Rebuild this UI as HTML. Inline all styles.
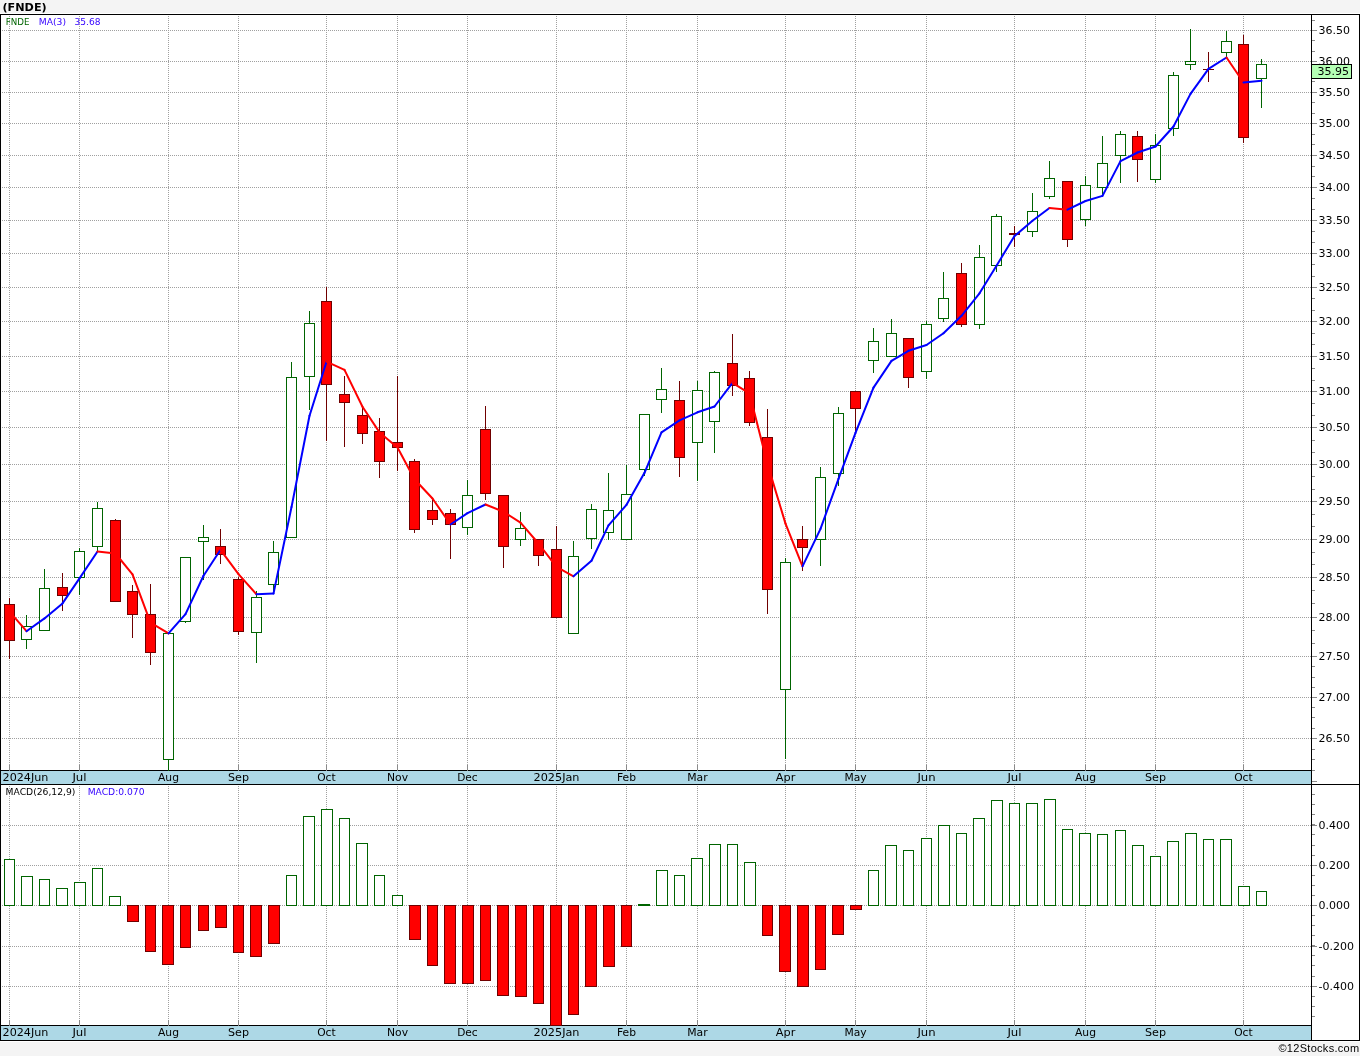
<!DOCTYPE html>
<html lang="en"><head><meta charset="utf-8"><title>(FNDE)</title>
<style>html,body{margin:0;padding:0;background:#f4f4f4}svg{display:block}</style>
</head><body>
<svg width="1360" height="1056" viewBox="0 0 1360 1056" font-family="'DejaVu Sans','Liberation Sans',sans-serif" font-size="11" shape-rendering="crispEdges">
<rect x="0" y="0" width="1360" height="1056" fill="#f4f4f4"/>
<rect x="0" y="13" width="1360" height="1029" fill="#ffffff"/>
<g stroke="#a0a0a0" stroke-width="1" stroke-dasharray="1 1" fill="none">
<path d="M2 30.5H1311"/>
<path d="M2 61.5H1311"/>
<path d="M2 92.5H1311"/>
<path d="M2 123.5H1311"/>
<path d="M2 155.5H1311"/>
<path d="M2 187.5H1311"/>
<path d="M2 220.5H1311"/>
<path d="M2 253.5H1311"/>
<path d="M2 287.5H1311"/>
<path d="M2 321.5H1311"/>
<path d="M2 356.5H1311"/>
<path d="M2 391.5H1311"/>
<path d="M2 427.5H1311"/>
<path d="M2 464.5H1311"/>
<path d="M2 501.5H1311"/>
<path d="M2 539.5H1311"/>
<path d="M2 577.5H1311"/>
<path d="M2 617.5H1311"/>
<path d="M2 656.5H1311"/>
<path d="M2 697.5H1311"/>
<path d="M2 738.5H1311"/>
<path d="M2 825.5H1311"/>
<path d="M2 865.5H1311"/>
<path d="M2 905.5H1311"/>
<path d="M2 946.5H1311"/>
<path d="M2 986.5H1311"/>
<path d="M9.5 16V765"/>
<path d="M9.5 786V1020"/>
<path d="M79.5 16V765"/>
<path d="M79.5 786V1020"/>
<path d="M168.5 16V765"/>
<path d="M168.5 786V1020"/>
<path d="M238.5 16V765"/>
<path d="M238.5 786V1020"/>
<path d="M326.5 16V765"/>
<path d="M326.5 786V1020"/>
<path d="M397.5 16V765"/>
<path d="M397.5 786V1020"/>
<path d="M467.5 16V765"/>
<path d="M467.5 786V1020"/>
<path d="M556.5 16V765"/>
<path d="M556.5 786V1020"/>
<path d="M626.5 16V765"/>
<path d="M626.5 786V1020"/>
<path d="M697.5 16V765"/>
<path d="M697.5 786V1020"/>
<path d="M785.5 16V765"/>
<path d="M785.5 786V1020"/>
<path d="M855.5 16V765"/>
<path d="M855.5 786V1020"/>
<path d="M926.5 16V765"/>
<path d="M926.5 786V1020"/>
<path d="M1014.5 16V765"/>
<path d="M1014.5 786V1020"/>
<path d="M1085.5 16V765"/>
<path d="M1085.5 786V1020"/>
<path d="M1155.5 16V765"/>
<path d="M1155.5 786V1020"/>
<path d="M1243.5 16V765"/>
<path d="M1243.5 786V1020"/>
</g>
<rect x="0" y="770" width="1312" height="15" fill="#000"/>
<rect x="1" y="771" width="1310" height="13" fill="#add8e6"/>
<text x="2.6" y="781" fill="#000" textLength="45.8" lengthAdjust="spacingAndGlyphs">2024Jun</text>
<text x="72.4" y="781" fill="#000" textLength="14.2" lengthAdjust="spacingAndGlyphs">Jul</text>
<text x="158.0" y="781" fill="#000" textLength="21" lengthAdjust="spacingAndGlyphs">Aug</text>
<text x="228.0" y="781" fill="#000" textLength="21" lengthAdjust="spacingAndGlyphs">Sep</text>
<text x="317.2" y="781" fill="#000" textLength="18.5" lengthAdjust="spacingAndGlyphs">Oct</text>
<text x="387.0" y="781" fill="#000" textLength="21" lengthAdjust="spacingAndGlyphs">Nov</text>
<text x="457.2" y="781" fill="#000" textLength="20.5" lengthAdjust="spacingAndGlyphs">Dec</text>
<text x="533.5" y="781" fill="#000" textLength="46" lengthAdjust="spacingAndGlyphs">2025Jan</text>
<text x="617.0" y="781" fill="#000" textLength="19" lengthAdjust="spacingAndGlyphs">Feb</text>
<text x="687.2" y="781" fill="#000" textLength="20.5" lengthAdjust="spacingAndGlyphs">Mar</text>
<text x="775.8" y="781" fill="#000" textLength="19.5" lengthAdjust="spacingAndGlyphs">Apr</text>
<text x="844.4" y="781" fill="#000" textLength="22.2" lengthAdjust="spacingAndGlyphs">May</text>
<text x="917.4" y="781" fill="#000" textLength="18.2" lengthAdjust="spacingAndGlyphs">Jun</text>
<text x="1007.4" y="781" fill="#000" textLength="14.2" lengthAdjust="spacingAndGlyphs">Jul</text>
<text x="1075.0" y="781" fill="#000" textLength="21" lengthAdjust="spacingAndGlyphs">Aug</text>
<text x="1145.0" y="781" fill="#000" textLength="21" lengthAdjust="spacingAndGlyphs">Sep</text>
<text x="1234.2" y="781" fill="#000" textLength="18.5" lengthAdjust="spacingAndGlyphs">Oct</text>
<rect x="0" y="1025" width="1312" height="16" fill="#000"/>
<rect x="1" y="1026" width="1310" height="14" fill="#add8e6"/>
<text x="2.6" y="1036" fill="#000" textLength="45.8" lengthAdjust="spacingAndGlyphs">2024Jun</text>
<text x="72.4" y="1036" fill="#000" textLength="14.2" lengthAdjust="spacingAndGlyphs">Jul</text>
<text x="158.0" y="1036" fill="#000" textLength="21" lengthAdjust="spacingAndGlyphs">Aug</text>
<text x="228.0" y="1036" fill="#000" textLength="21" lengthAdjust="spacingAndGlyphs">Sep</text>
<text x="317.2" y="1036" fill="#000" textLength="18.5" lengthAdjust="spacingAndGlyphs">Oct</text>
<text x="387.0" y="1036" fill="#000" textLength="21" lengthAdjust="spacingAndGlyphs">Nov</text>
<text x="457.2" y="1036" fill="#000" textLength="20.5" lengthAdjust="spacingAndGlyphs">Dec</text>
<text x="533.5" y="1036" fill="#000" textLength="46" lengthAdjust="spacingAndGlyphs">2025Jan</text>
<text x="617.0" y="1036" fill="#000" textLength="19" lengthAdjust="spacingAndGlyphs">Feb</text>
<text x="687.2" y="1036" fill="#000" textLength="20.5" lengthAdjust="spacingAndGlyphs">Mar</text>
<text x="775.8" y="1036" fill="#000" textLength="19.5" lengthAdjust="spacingAndGlyphs">Apr</text>
<text x="844.4" y="1036" fill="#000" textLength="22.2" lengthAdjust="spacingAndGlyphs">May</text>
<text x="917.4" y="1036" fill="#000" textLength="18.2" lengthAdjust="spacingAndGlyphs">Jun</text>
<text x="1007.4" y="1036" fill="#000" textLength="14.2" lengthAdjust="spacingAndGlyphs">Jul</text>
<text x="1075.0" y="1036" fill="#000" textLength="21" lengthAdjust="spacingAndGlyphs">Aug</text>
<text x="1145.0" y="1036" fill="#000" textLength="21" lengthAdjust="spacingAndGlyphs">Sep</text>
<text x="1234.2" y="1036" fill="#000" textLength="18.5" lengthAdjust="spacingAndGlyphs">Oct</text>
<g stroke="#8a8a8a" stroke-width="1">
<path d="M9.5 765V771"/>
<path d="M9.5 1020V1026"/>
<path d="M79.5 765V771"/>
<path d="M79.5 1020V1026"/>
<path d="M168.5 765V771"/>
<path d="M168.5 1020V1026"/>
<path d="M238.5 765V771"/>
<path d="M238.5 1020V1026"/>
<path d="M326.5 765V771"/>
<path d="M326.5 1020V1026"/>
<path d="M397.5 765V771"/>
<path d="M397.5 1020V1026"/>
<path d="M467.5 765V771"/>
<path d="M467.5 1020V1026"/>
<path d="M556.5 765V771"/>
<path d="M556.5 1020V1026"/>
<path d="M626.5 765V771"/>
<path d="M626.5 1020V1026"/>
<path d="M697.5 765V771"/>
<path d="M697.5 1020V1026"/>
<path d="M785.5 765V771"/>
<path d="M785.5 1020V1026"/>
<path d="M855.5 765V771"/>
<path d="M855.5 1020V1026"/>
<path d="M926.5 765V771"/>
<path d="M926.5 1020V1026"/>
<path d="M1014.5 765V771"/>
<path d="M1014.5 1020V1026"/>
<path d="M1085.5 765V771"/>
<path d="M1085.5 1020V1026"/>
<path d="M1155.5 765V771"/>
<path d="M1155.5 1020V1026"/>
<path d="M1243.5 765V771"/>
<path d="M1243.5 1020V1026"/>
</g>
<g stroke-width="1">
<rect x="4.5" y="859.5" width="10" height="46" fill="#fff" stroke="#006400"/>
<rect x="21.5" y="876.5" width="11" height="29" fill="#fff" stroke="#006400"/>
<rect x="39.5" y="879.5" width="10" height="26" fill="#fff" stroke="#006400"/>
<rect x="56.5" y="888.5" width="11" height="17" fill="#fff" stroke="#006400"/>
<rect x="74.5" y="882.5" width="11" height="23" fill="#fff" stroke="#006400"/>
<rect x="92.5" y="868.5" width="10" height="37" fill="#fff" stroke="#006400"/>
<rect x="109.5" y="896.5" width="11" height="9" fill="#fff" stroke="#006400"/>
<rect x="127.5" y="905.5" width="11" height="16" fill="#ff0000" stroke="#700000"/>
<rect x="145.5" y="905.5" width="10" height="46" fill="#ff0000" stroke="#700000"/>
<rect x="162.5" y="905.5" width="11" height="59" fill="#ff0000" stroke="#700000"/>
<rect x="180.5" y="905.5" width="10" height="42" fill="#ff0000" stroke="#700000"/>
<rect x="198.5" y="905.5" width="10" height="25" fill="#ff0000" stroke="#700000"/>
<rect x="215.5" y="905.5" width="11" height="22" fill="#ff0000" stroke="#700000"/>
<rect x="233.5" y="905.5" width="10" height="47" fill="#ff0000" stroke="#700000"/>
<rect x="250.5" y="905.5" width="11" height="51" fill="#ff0000" stroke="#700000"/>
<rect x="268.5" y="905.5" width="11" height="38" fill="#ff0000" stroke="#700000"/>
<rect x="286.5" y="875.5" width="10" height="30" fill="#fff" stroke="#006400"/>
<rect x="303.5" y="816.5" width="11" height="89" fill="#fff" stroke="#006400"/>
<rect x="321.5" y="809.5" width="11" height="96" fill="#fff" stroke="#006400"/>
<rect x="339.5" y="818.5" width="10" height="87" fill="#fff" stroke="#006400"/>
<rect x="356.5" y="843.5" width="11" height="62" fill="#fff" stroke="#006400"/>
<rect x="374.5" y="875.5" width="10" height="30" fill="#fff" stroke="#006400"/>
<rect x="392.5" y="895.5" width="10" height="10" fill="#fff" stroke="#006400"/>
<rect x="409.5" y="905.5" width="11" height="34" fill="#ff0000" stroke="#700000"/>
<rect x="427.5" y="905.5" width="10" height="60" fill="#ff0000" stroke="#700000"/>
<rect x="444.5" y="905.5" width="11" height="78" fill="#ff0000" stroke="#700000"/>
<rect x="462.5" y="905.5" width="11" height="78" fill="#ff0000" stroke="#700000"/>
<rect x="480.5" y="905.5" width="10" height="75" fill="#ff0000" stroke="#700000"/>
<rect x="497.5" y="905.5" width="11" height="90" fill="#ff0000" stroke="#700000"/>
<rect x="515.5" y="905.5" width="11" height="91" fill="#ff0000" stroke="#700000"/>
<rect x="533.5" y="905.5" width="10" height="98" fill="#ff0000" stroke="#700000"/>
<rect x="550.5" y="905.5" width="11" height="120" fill="#ff0000" stroke="#700000"/>
<rect x="568.5" y="905.5" width="10" height="109" fill="#ff0000" stroke="#700000"/>
<rect x="585.5" y="905.5" width="11" height="81" fill="#ff0000" stroke="#700000"/>
<rect x="603.5" y="905.5" width="11" height="61" fill="#ff0000" stroke="#700000"/>
<rect x="621.5" y="905.5" width="10" height="41" fill="#ff0000" stroke="#700000"/>
<rect x="638" y="904" width="12" height="2" fill="#006400" stroke="none"/>
<rect x="656.5" y="870.5" width="11" height="35" fill="#fff" stroke="#006400"/>
<rect x="674.5" y="875.5" width="10" height="30" fill="#fff" stroke="#006400"/>
<rect x="691.5" y="858.5" width="11" height="47" fill="#fff" stroke="#006400"/>
<rect x="709.5" y="844.5" width="11" height="61" fill="#fff" stroke="#006400"/>
<rect x="727.5" y="844.5" width="10" height="61" fill="#fff" stroke="#006400"/>
<rect x="744.5" y="862.5" width="11" height="43" fill="#fff" stroke="#006400"/>
<rect x="762.5" y="905.5" width="10" height="30" fill="#ff0000" stroke="#700000"/>
<rect x="779.5" y="905.5" width="11" height="66" fill="#ff0000" stroke="#700000"/>
<rect x="797.5" y="905.5" width="11" height="81" fill="#ff0000" stroke="#700000"/>
<rect x="815.5" y="905.5" width="10" height="64" fill="#ff0000" stroke="#700000"/>
<rect x="832.5" y="905.5" width="11" height="29" fill="#ff0000" stroke="#700000"/>
<rect x="850.5" y="905.5" width="11" height="4" fill="#ff0000" stroke="#700000"/>
<rect x="868.5" y="870.5" width="10" height="35" fill="#fff" stroke="#006400"/>
<rect x="885.5" y="845.5" width="11" height="60" fill="#fff" stroke="#006400"/>
<rect x="903.5" y="850.5" width="10" height="55" fill="#fff" stroke="#006400"/>
<rect x="921.5" y="838.5" width="10" height="67" fill="#fff" stroke="#006400"/>
<rect x="938.5" y="825.5" width="11" height="80" fill="#fff" stroke="#006400"/>
<rect x="956.5" y="833.5" width="10" height="72" fill="#fff" stroke="#006400"/>
<rect x="973.5" y="818.5" width="11" height="87" fill="#fff" stroke="#006400"/>
<rect x="991.5" y="800.5" width="11" height="105" fill="#fff" stroke="#006400"/>
<rect x="1009.5" y="803.5" width="10" height="102" fill="#fff" stroke="#006400"/>
<rect x="1026.5" y="803.5" width="11" height="102" fill="#fff" stroke="#006400"/>
<rect x="1044.5" y="799.5" width="11" height="106" fill="#fff" stroke="#006400"/>
<rect x="1062.5" y="829.5" width="10" height="76" fill="#fff" stroke="#006400"/>
<rect x="1079.5" y="833.5" width="11" height="72" fill="#fff" stroke="#006400"/>
<rect x="1097.5" y="834.5" width="10" height="71" fill="#fff" stroke="#006400"/>
<rect x="1115.5" y="830.5" width="10" height="75" fill="#fff" stroke="#006400"/>
<rect x="1132.5" y="845.5" width="11" height="60" fill="#fff" stroke="#006400"/>
<rect x="1150.5" y="856.5" width="10" height="49" fill="#fff" stroke="#006400"/>
<rect x="1167.5" y="841.5" width="11" height="64" fill="#fff" stroke="#006400"/>
<rect x="1185.5" y="833.5" width="11" height="72" fill="#fff" stroke="#006400"/>
<rect x="1203.5" y="839.5" width="10" height="66" fill="#fff" stroke="#006400"/>
<rect x="1220.5" y="839.5" width="11" height="66" fill="#fff" stroke="#006400"/>
<rect x="1238.5" y="886.5" width="11" height="19" fill="#fff" stroke="#006400"/>
<rect x="1256.5" y="891.5" width="10" height="14" fill="#fff" stroke="#006400"/>
</g>
<g stroke-width="1">
<path d="M9.5 598V659" stroke="#700000"/>
<rect x="4.5" y="604.5" width="10" height="36" fill="#ff0000" stroke="#700000"/>
<path d="M26.5 615V626" stroke="#006400"/>
<path d="M26.5 640V649" stroke="#006400"/>
<rect x="21.5" y="626.5" width="10" height="13" fill="#fff" stroke="#006400"/>
<path d="M44.5 569V588" stroke="#006400"/>
<rect x="39.5" y="588.5" width="10" height="42" fill="#fff" stroke="#006400"/>
<path d="M62.5 573V611" stroke="#700000"/>
<rect x="57.5" y="587.5" width="10" height="8" fill="#ff0000" stroke="#700000"/>
<path d="M79.5 548V551" stroke="#006400"/>
<path d="M79.5 578V595" stroke="#006400"/>
<rect x="74.5" y="551.5" width="10" height="26" fill="#fff" stroke="#006400"/>
<path d="M97.5 502V508" stroke="#006400"/>
<path d="M97.5 547V552" stroke="#006400"/>
<rect x="92.5" y="508.5" width="10" height="38" fill="#fff" stroke="#006400"/>
<path d="M115.5 519V602" stroke="#700000"/>
<rect x="110.5" y="520.5" width="10" height="81" fill="#ff0000" stroke="#700000"/>
<path d="M132.5 585V638" stroke="#700000"/>
<rect x="127.5" y="591.5" width="10" height="23" fill="#ff0000" stroke="#700000"/>
<path d="M150.5 584V665" stroke="#700000"/>
<rect x="145.5" y="614.5" width="10" height="38" fill="#ff0000" stroke="#700000"/>
<path d="M168.5 760V771" stroke="#006400"/>
<rect x="163.5" y="633.5" width="10" height="126" fill="#fff" stroke="#006400"/>
<path d="M185.5 622V623" stroke="#006400"/>
<rect x="180.5" y="557.5" width="10" height="64" fill="#fff" stroke="#006400"/>
<path d="M203.5 525V537" stroke="#006400"/>
<path d="M203.5 542V580" stroke="#006400"/>
<rect x="198.5" y="537.5" width="10" height="4" fill="#fff" stroke="#006400"/>
<path d="M220.5 529V564" stroke="#700000"/>
<rect x="215.5" y="546.5" width="10" height="8" fill="#ff0000" stroke="#700000"/>
<path d="M238.5 577V635" stroke="#700000"/>
<rect x="233.5" y="579.5" width="10" height="52" fill="#ff0000" stroke="#700000"/>
<path d="M256.5 591V597" stroke="#006400"/>
<path d="M256.5 633V663" stroke="#006400"/>
<rect x="251.5" y="597.5" width="10" height="35" fill="#fff" stroke="#006400"/>
<path d="M273.5 541V552" stroke="#006400"/>
<path d="M273.5 585V594" stroke="#006400"/>
<rect x="268.5" y="552.5" width="10" height="32" fill="#fff" stroke="#006400"/>
<path d="M291.5 362V377" stroke="#006400"/>
<rect x="286.5" y="377.5" width="10" height="160" fill="#fff" stroke="#006400"/>
<path d="M309.5 311V323" stroke="#006400"/>
<path d="M309.5 377V410" stroke="#006400"/>
<rect x="304.5" y="323.5" width="10" height="53" fill="#fff" stroke="#006400"/>
<path d="M326.5 287V441" stroke="#700000"/>
<rect x="321.5" y="301.5" width="10" height="83" fill="#ff0000" stroke="#700000"/>
<path d="M344.5 376V447" stroke="#700000"/>
<rect x="339.5" y="394.5" width="10" height="8" fill="#ff0000" stroke="#700000"/>
<path d="M362.5 408V444" stroke="#700000"/>
<rect x="357.5" y="415.5" width="10" height="18" fill="#ff0000" stroke="#700000"/>
<path d="M379.5 418V478" stroke="#700000"/>
<rect x="374.5" y="431.5" width="10" height="30" fill="#ff0000" stroke="#700000"/>
<path d="M397.5 376V471" stroke="#700000"/>
<rect x="392.5" y="442.5" width="10" height="5" fill="#ff0000" stroke="#700000"/>
<path d="M414.5 459V533" stroke="#700000"/>
<rect x="409.5" y="461.5" width="10" height="68" fill="#ff0000" stroke="#700000"/>
<path d="M432.5 499V525" stroke="#700000"/>
<rect x="427.5" y="510.5" width="10" height="9" fill="#ff0000" stroke="#700000"/>
<path d="M450.5 509V559" stroke="#700000"/>
<rect x="445.5" y="513.5" width="10" height="11" fill="#ff0000" stroke="#700000"/>
<path d="M467.5 480V495" stroke="#006400"/>
<path d="M467.5 528V535" stroke="#006400"/>
<rect x="462.5" y="495.5" width="10" height="32" fill="#fff" stroke="#006400"/>
<path d="M485.5 406V500" stroke="#700000"/>
<rect x="480.5" y="429.5" width="10" height="64" fill="#ff0000" stroke="#700000"/>
<path d="M503.5 495V568" stroke="#700000"/>
<rect x="498.5" y="495.5" width="10" height="51" fill="#ff0000" stroke="#700000"/>
<path d="M520.5 512V528" stroke="#006400"/>
<path d="M520.5 540V546" stroke="#006400"/>
<rect x="515.5" y="528.5" width="10" height="11" fill="#fff" stroke="#006400"/>
<path d="M538.5 539V566" stroke="#700000"/>
<rect x="533.5" y="539.5" width="10" height="16" fill="#ff0000" stroke="#700000"/>
<path d="M556.5 526V618" stroke="#700000"/>
<rect x="551.5" y="549.5" width="10" height="68" fill="#ff0000" stroke="#700000"/>
<path d="M573.5 541V556" stroke="#006400"/>
<rect x="568.5" y="556.5" width="10" height="77" fill="#fff" stroke="#006400"/>
<path d="M591.5 504V509" stroke="#006400"/>
<path d="M591.5 539V549" stroke="#006400"/>
<rect x="586.5" y="509.5" width="10" height="29" fill="#fff" stroke="#006400"/>
<path d="M608.5 473V510" stroke="#006400"/>
<path d="M608.5 533V540" stroke="#006400"/>
<rect x="603.5" y="510.5" width="10" height="22" fill="#fff" stroke="#006400"/>
<path d="M626.5 465V494" stroke="#006400"/>
<rect x="621.5" y="494.5" width="10" height="45" fill="#fff" stroke="#006400"/>
<path d="M644.5 470V476" stroke="#006400"/>
<rect x="639.5" y="414.5" width="10" height="55" fill="#fff" stroke="#006400"/>
<path d="M661.5 368V389" stroke="#006400"/>
<path d="M661.5 400V413" stroke="#006400"/>
<rect x="656.5" y="389.5" width="10" height="10" fill="#fff" stroke="#006400"/>
<path d="M679.5 381V477" stroke="#700000"/>
<rect x="674.5" y="400.5" width="10" height="57" fill="#ff0000" stroke="#700000"/>
<path d="M697.5 381V390" stroke="#006400"/>
<path d="M697.5 443V481" stroke="#006400"/>
<rect x="692.5" y="390.5" width="10" height="52" fill="#fff" stroke="#006400"/>
<path d="M714.5 371V372" stroke="#006400"/>
<path d="M714.5 422V453" stroke="#006400"/>
<rect x="709.5" y="372.5" width="10" height="49" fill="#fff" stroke="#006400"/>
<path d="M732.5 334V396" stroke="#700000"/>
<rect x="727.5" y="363.5" width="10" height="22" fill="#ff0000" stroke="#700000"/>
<path d="M749.5 371V426" stroke="#700000"/>
<rect x="744.5" y="378.5" width="10" height="44" fill="#ff0000" stroke="#700000"/>
<path d="M767.5 409V614" stroke="#700000"/>
<rect x="762.5" y="437.5" width="10" height="152" fill="#ff0000" stroke="#700000"/>
<path d="M785.5 558V562" stroke="#006400"/>
<path d="M785.5 690V759" stroke="#006400"/>
<rect x="780.5" y="562.5" width="10" height="127" fill="#fff" stroke="#006400"/>
<path d="M802.5 526V571" stroke="#700000"/>
<rect x="797.5" y="539.5" width="10" height="8" fill="#ff0000" stroke="#700000"/>
<path d="M820.5 467V477" stroke="#006400"/>
<path d="M820.5 540V566" stroke="#006400"/>
<rect x="815.5" y="477.5" width="10" height="62" fill="#fff" stroke="#006400"/>
<path d="M838.5 407V413" stroke="#006400"/>
<path d="M838.5 474V486" stroke="#006400"/>
<rect x="833.5" y="413.5" width="10" height="60" fill="#fff" stroke="#006400"/>
<path d="M855.5 391V432" stroke="#700000"/>
<rect x="850.5" y="391.5" width="10" height="17" fill="#ff0000" stroke="#700000"/>
<path d="M873.5 328V341" stroke="#006400"/>
<path d="M873.5 361V373" stroke="#006400"/>
<rect x="868.5" y="341.5" width="10" height="19" fill="#fff" stroke="#006400"/>
<path d="M891.5 319V333" stroke="#006400"/>
<rect x="886.5" y="333.5" width="10" height="23" fill="#fff" stroke="#006400"/>
<path d="M908.5 338V388" stroke="#700000"/>
<rect x="903.5" y="338.5" width="10" height="39" fill="#ff0000" stroke="#700000"/>
<path d="M926.5 321V324" stroke="#006400"/>
<path d="M926.5 372V379" stroke="#006400"/>
<rect x="921.5" y="324.5" width="10" height="47" fill="#fff" stroke="#006400"/>
<path d="M943.5 272V298" stroke="#006400"/>
<path d="M943.5 319V322" stroke="#006400"/>
<rect x="938.5" y="298.5" width="10" height="20" fill="#fff" stroke="#006400"/>
<path d="M961.5 263V327" stroke="#700000"/>
<rect x="956.5" y="273.5" width="10" height="51" fill="#ff0000" stroke="#700000"/>
<path d="M979.5 245V257" stroke="#006400"/>
<path d="M979.5 325V329" stroke="#006400"/>
<rect x="974.5" y="257.5" width="10" height="67" fill="#fff" stroke="#006400"/>
<path d="M996.5 214V216" stroke="#006400"/>
<path d="M996.5 266V272" stroke="#006400"/>
<rect x="991.5" y="216.5" width="10" height="49" fill="#fff" stroke="#006400"/>
<path d="M1014.5 226V247" stroke="#700000"/>
<rect x="1009.5" y="233.5" width="10" height="1" fill="#ff0000" stroke="#700000"/>
<path d="M1032.5 193V211" stroke="#006400"/>
<path d="M1032.5 232V237" stroke="#006400"/>
<rect x="1027.5" y="211.5" width="10" height="20" fill="#fff" stroke="#006400"/>
<path d="M1049.5 161V178" stroke="#006400"/>
<path d="M1049.5 197V199" stroke="#006400"/>
<rect x="1044.5" y="178.5" width="10" height="18" fill="#fff" stroke="#006400"/>
<path d="M1067.5 181V247" stroke="#700000"/>
<rect x="1062.5" y="181.5" width="10" height="58" fill="#ff0000" stroke="#700000"/>
<path d="M1085.5 176V185" stroke="#006400"/>
<path d="M1085.5 220V226" stroke="#006400"/>
<rect x="1080.5" y="185.5" width="10" height="34" fill="#fff" stroke="#006400"/>
<path d="M1102.5 136V163" stroke="#006400"/>
<path d="M1102.5 188V196" stroke="#006400"/>
<rect x="1097.5" y="163.5" width="10" height="24" fill="#fff" stroke="#006400"/>
<path d="M1120.5 131V134" stroke="#006400"/>
<path d="M1120.5 156V183" stroke="#006400"/>
<rect x="1115.5" y="134.5" width="10" height="21" fill="#fff" stroke="#006400"/>
<path d="M1137.5 131V182" stroke="#700000"/>
<rect x="1132.5" y="136.5" width="10" height="23" fill="#ff0000" stroke="#700000"/>
<path d="M1155.5 134V145" stroke="#006400"/>
<path d="M1155.5 180V183" stroke="#006400"/>
<rect x="1150.5" y="145.5" width="10" height="34" fill="#fff" stroke="#006400"/>
<path d="M1173.5 72V75" stroke="#006400"/>
<path d="M1173.5 129V136" stroke="#006400"/>
<rect x="1168.5" y="75.5" width="10" height="53" fill="#fff" stroke="#006400"/>
<path d="M1190.5 29V61" stroke="#006400"/>
<path d="M1190.5 65V70" stroke="#006400"/>
<rect x="1185.5" y="61.5" width="10" height="3" fill="#fff" stroke="#006400"/>
<path d="M1208.5 52V82" stroke="#700000"/>
<rect x="1203" y="69" width="11" height="1" fill="#700000" stroke="none"/>
<path d="M1226.5 31V41" stroke="#006400"/>
<path d="M1226.5 53V58" stroke="#006400"/>
<rect x="1221.5" y="41.5" width="10" height="11" fill="#fff" stroke="#006400"/>
<path d="M1243.5 35V143" stroke="#700000"/>
<rect x="1238.5" y="44.5" width="10" height="93" fill="#ff0000" stroke="#700000"/>
<path d="M1261.5 59V64" stroke="#006400"/>
<path d="M1261.5 79V108" stroke="#006400"/>
<rect x="1256.5" y="64.5" width="10" height="14" fill="#fff" stroke="#006400"/>
</g>
<g fill="none" stroke-width="2" stroke-linecap="round" stroke-linejoin="round" shape-rendering="geometricPrecision">
<path d="M9.5 611.7L26.5 631.2" stroke="#ff0000"/>
<path d="M26.5 631.2L44.5 618.4" stroke="#0000ff"/>
<path d="M44.5 618.4L62.5 603.4" stroke="#0000ff"/>
<path d="M62.5 603.4L79.5 578.4" stroke="#0000ff"/>
<path d="M79.5 578.4L97.5 551.5" stroke="#0000ff"/>
<path d="M97.5 551.5L115.5 553.5" stroke="#ff0000"/>
<path d="M115.5 553.5L132.5 574.3" stroke="#ff0000"/>
<path d="M132.5 574.3L150.5 622.7" stroke="#ff0000"/>
<path d="M150.5 622.7L168.5 633.4" stroke="#ff0000"/>
<path d="M168.5 633.4L185.5 614.1" stroke="#0000ff"/>
<path d="M185.5 614.1L203.5 575.8" stroke="#0000ff"/>
<path d="M203.5 575.8L220.5 549.8" stroke="#0000ff"/>
<path d="M220.5 549.8L238.5 574.1" stroke="#ff0000"/>
<path d="M238.5 574.1L256.5 594.3" stroke="#ff0000"/>
<path d="M256.5 594.3L273.5 593.6" stroke="#0000ff"/>
<path d="M273.5 593.6L291.5 507.1" stroke="#0000ff"/>
<path d="M291.5 507.1L309.5 415.7" stroke="#0000ff"/>
<path d="M309.5 415.7L326.5 361.7" stroke="#0000ff"/>
<path d="M326.5 361.7L344.5 369.9" stroke="#ff0000"/>
<path d="M344.5 369.9L362.5 406.7" stroke="#ff0000"/>
<path d="M362.5 406.7L379.5 432.4" stroke="#ff0000"/>
<path d="M379.5 432.4L397.5 447.5" stroke="#ff0000"/>
<path d="M397.5 447.5L414.5 479.2" stroke="#ff0000"/>
<path d="M414.5 479.2L432.5 498.5" stroke="#ff0000"/>
<path d="M432.5 498.5L450.5 524.5" stroke="#ff0000"/>
<path d="M450.5 524.5L467.5 513.1" stroke="#0000ff"/>
<path d="M467.5 513.1L485.5 504.5" stroke="#0000ff"/>
<path d="M485.5 504.5L503.5 511.7" stroke="#ff0000"/>
<path d="M503.5 511.7L520.5 522.7" stroke="#ff0000"/>
<path d="M520.5 522.7L538.5 543.5" stroke="#ff0000"/>
<path d="M538.5 543.5L556.5 566.9" stroke="#ff0000"/>
<path d="M556.5 566.9L573.5 576.3" stroke="#ff0000"/>
<path d="M573.5 576.3L591.5 560.7" stroke="#0000ff"/>
<path d="M591.5 560.7L608.5 525.4" stroke="#0000ff"/>
<path d="M608.5 525.4L626.5 504.8" stroke="#0000ff"/>
<path d="M626.5 504.8L644.5 472.8" stroke="#0000ff"/>
<path d="M644.5 472.8L661.5 432.4" stroke="#0000ff"/>
<path d="M661.5 432.4L679.5 420.3" stroke="#0000ff"/>
<path d="M679.5 420.3L697.5 412.3" stroke="#0000ff"/>
<path d="M697.5 412.3L714.5 406.5" stroke="#0000ff"/>
<path d="M714.5 406.5L732.5 382.8" stroke="#0000ff"/>
<path d="M732.5 382.8L749.5 393.4" stroke="#ff0000"/>
<path d="M749.5 393.4L767.5 464.1" stroke="#ff0000"/>
<path d="M767.5 464.1L785.5 523.6" stroke="#ff0000"/>
<path d="M785.5 523.6L802.5 566.4" stroke="#ff0000"/>
<path d="M802.5 566.4L820.5 528.9" stroke="#0000ff"/>
<path d="M820.5 528.9L838.5 478.8" stroke="#0000ff"/>
<path d="M838.5 478.8L855.5 432.9" stroke="#0000ff"/>
<path d="M855.5 432.9L873.5 387.6" stroke="#0000ff"/>
<path d="M873.5 387.6L891.5 360.9" stroke="#0000ff"/>
<path d="M891.5 360.9L908.5 350.8" stroke="#0000ff"/>
<path d="M908.5 350.8L926.5 345.0" stroke="#0000ff"/>
<path d="M926.5 345.0L943.5 333.3" stroke="#0000ff"/>
<path d="M943.5 333.3L961.5 315.8" stroke="#0000ff"/>
<path d="M961.5 315.8L979.5 293.3" stroke="#0000ff"/>
<path d="M979.5 293.3L996.5 265.7" stroke="#0000ff"/>
<path d="M996.5 265.7L1014.5 236.1" stroke="#0000ff"/>
<path d="M1014.5 236.1L1032.5 220.8" stroke="#0000ff"/>
<path d="M1032.5 220.8L1049.5 208.0" stroke="#0000ff"/>
<path d="M1049.5 208.0L1067.5 209.7" stroke="#ff0000"/>
<path d="M1067.5 209.7L1085.5 201.0" stroke="#0000ff"/>
<path d="M1085.5 201.0L1102.5 195.9" stroke="#0000ff"/>
<path d="M1102.5 195.9L1120.5 161.1" stroke="#0000ff"/>
<path d="M1120.5 161.1L1137.5 152.5" stroke="#0000ff"/>
<path d="M1137.5 152.5L1155.5 146.5" stroke="#0000ff"/>
<path d="M1155.5 146.5L1173.5 126.5" stroke="#0000ff"/>
<path d="M1173.5 126.5L1190.5 93.9" stroke="#0000ff"/>
<path d="M1190.5 93.9L1208.5 68.8" stroke="#0000ff"/>
<path d="M1208.5 68.8L1226.5 57.5" stroke="#0000ff"/>
<path d="M1226.5 57.5L1243.5 82.5" stroke="#ff0000"/>
<path d="M1243.5 82.5L1261.5 80.8" stroke="#0000ff"/>
</g>
<g fill="#000">
<rect x="0" y="14" width="1360" height="1"/>
<rect x="0" y="14" width="1" height="1027"/>
<rect x="1311" y="14" width="1" height="1027"/>
<rect x="1359" y="14" width="1" height="1027"/>
<rect x="0" y="784" width="1360" height="1"/>
<rect x="0" y="1040" width="1360" height="1"/>
</g>
<g stroke="#8a8a8a" stroke-width="1">
<path d="M1312 30.5h5"/>
<path d="M1312 61.5h5"/>
<path d="M1312 92.5h5"/>
<path d="M1312 123.5h5"/>
<path d="M1312 155.5h5"/>
<path d="M1312 187.5h5"/>
<path d="M1312 220.5h5"/>
<path d="M1312 253.5h5"/>
<path d="M1312 287.5h5"/>
<path d="M1312 321.5h5"/>
<path d="M1312 356.5h5"/>
<path d="M1312 391.5h5"/>
<path d="M1312 427.5h5"/>
<path d="M1312 464.5h5"/>
<path d="M1312 501.5h5"/>
<path d="M1312 539.5h5"/>
<path d="M1312 577.5h5"/>
<path d="M1312 617.5h5"/>
<path d="M1312 656.5h5"/>
<path d="M1312 697.5h5"/>
<path d="M1312 738.5h5"/>
<path d="M1312 20.5h3"/>
<path d="M1312 40.5h3"/>
<path d="M1312 51.5h3"/>
<path d="M1312 71.5h3"/>
<path d="M1312 81.5h3"/>
<path d="M1312 102.5h3"/>
<path d="M1312 113.5h3"/>
<path d="M1312 134.5h3"/>
<path d="M1312 144.5h3"/>
<path d="M1312 166.5h3"/>
<path d="M1312 176.5h3"/>
<path d="M1312 198.5h3"/>
<path d="M1312 209.5h3"/>
<path d="M1312 231.5h3"/>
<path d="M1312 242.5h3"/>
<path d="M1312 264.5h3"/>
<path d="M1312 276.5h3"/>
<path d="M1312 298.5h3"/>
<path d="M1312 310.5h3"/>
<path d="M1312 333.5h3"/>
<path d="M1312 344.5h3"/>
<path d="M1312 368.5h3"/>
<path d="M1312 380.5h3"/>
<path d="M1312 403.5h3"/>
<path d="M1312 415.5h3"/>
<path d="M1312 440.5h3"/>
<path d="M1312 452.5h3"/>
<path d="M1312 476.5h3"/>
<path d="M1312 489.5h3"/>
<path d="M1312 514.5h3"/>
<path d="M1312 526.5h3"/>
<path d="M1312 552.5h3"/>
<path d="M1312 564.5h3"/>
<path d="M1312 590.5h3"/>
<path d="M1312 603.5h3"/>
<path d="M1312 630.5h3"/>
<path d="M1312 643.5h3"/>
<path d="M1312 666.5h3"/>
<path d="M1312 677.5h3"/>
<path d="M1312 687.5h3"/>
<path d="M1312 707.5h3"/>
<path d="M1312 717.5h3"/>
<path d="M1312 728.5h3"/>
<path d="M1312 749.5h3"/>
<path d="M1312 759.5h3"/>
<path d="M1312 770.5h3"/>
<path d="M1312 781.5h5"/>
<path d="M1312 825.5h5"/>
<path d="M1312 865.5h5"/>
<path d="M1312 905.5h5"/>
<path d="M1312 946.5h5"/>
<path d="M1312 986.5h5"/>
<path d="M1312 794.5h3"/>
<path d="M1312 804.5h3"/>
<path d="M1312 814.5h3"/>
<path d="M1312 824.5h3"/>
<path d="M1312 834.5h3"/>
<path d="M1312 845.5h3"/>
<path d="M1312 855.5h3"/>
<path d="M1312 875.5h3"/>
<path d="M1312 885.5h3"/>
<path d="M1312 895.5h3"/>
<path d="M1312 915.5h3"/>
<path d="M1312 925.5h3"/>
<path d="M1312 935.5h3"/>
<path d="M1312 945.5h3"/>
<path d="M1312 955.5h3"/>
<path d="M1312 965.5h3"/>
<path d="M1312 976.5h3"/>
<path d="M1312 996.5h3"/>
<path d="M1312 1006.5h3"/>
<path d="M1312 1016.5h3"/>
</g>
<g fill="#000">
<text x="1318.5" y="34">36.50</text>
<text x="1318.5" y="65">36.00</text>
<text x="1318.5" y="96">35.50</text>
<text x="1318.5" y="127">35.00</text>
<text x="1318.5" y="159">34.50</text>
<text x="1318.5" y="191">34.00</text>
<text x="1318.5" y="224">33.50</text>
<text x="1318.5" y="257">33.00</text>
<text x="1318.5" y="291">32.50</text>
<text x="1318.5" y="325">32.00</text>
<text x="1318.5" y="360">31.50</text>
<text x="1318.5" y="395">31.00</text>
<text x="1318.5" y="431">30.50</text>
<text x="1318.5" y="468">30.00</text>
<text x="1318.5" y="505">29.50</text>
<text x="1318.5" y="543">29.00</text>
<text x="1318.5" y="581">28.50</text>
<text x="1318.5" y="621">28.00</text>
<text x="1318.5" y="660">27.50</text>
<text x="1318.5" y="701">27.00</text>
<text x="1318.5" y="742">26.50</text>
<text x="1318.5" y="829">0.400</text>
<text x="1318.5" y="869">0.200</text>
<text x="1318.5" y="909">0.000</text>
<text x="1318.5" y="950">-0.200</text>
<text x="1318.5" y="990">-0.400</text>
</g>
<rect x="1311.5" y="64.5" width="40" height="14" fill="#b4ffb4" stroke="#000" stroke-width="1"/>
<text x="1317.5" y="75" fill="#000">35.95</text>
<text x="2.5" y="11" font-weight="bold" fill="#000" font-size="11.2">(FNDE)</text>
<g font-size="9.2" lengthAdjust="spacingAndGlyphs">
<text x="5.7" y="25" fill="#006400" textLength="23.8" lengthAdjust="spacingAndGlyphs">FNDE</text>
<text x="38.7" y="25" fill="#3300ff" textLength="27.3" lengthAdjust="spacingAndGlyphs">MA(3)</text>
<text x="74.5" y="25" fill="#3300ff" textLength="26" lengthAdjust="spacingAndGlyphs">35.68</text>
<text x="5.6" y="795" fill="#000" textLength="69.8" lengthAdjust="spacingAndGlyphs">MACD(26,12,9)</text>
<text x="87.7" y="795" fill="#3300ff" textLength="56.8" lengthAdjust="spacingAndGlyphs">MACD:0.070</text>
</g>
<text x="1359.5" y="1052" text-anchor="end" fill="#000" font-family="'Liberation Sans',sans-serif" font-size="11" letter-spacing="0.3">©12Stocks.com</text>
</svg>
</body></html>
